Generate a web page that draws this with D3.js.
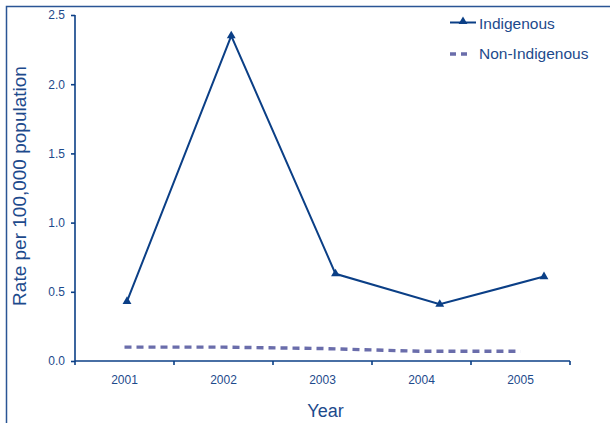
<!DOCTYPE html>
<html>
<head>
<meta charset="utf-8">
<script src="https://cdn.jsdelivr.net/npm/d3@7"></script>
<style>
  html, body { margin: 0; padding: 0; background: #fff; }
  svg { display: block; font-family: "Liberation Sans", Arial, sans-serif; }
</style>
</head>
<body>
<svg id="chart" width="610" height="423"></svg>
<script>
// Notification rates per 100,000 population by year
const years = ["2001", "2002", "2003", "2004", "2005"];
const indigenous = [0.43, 2.35, 0.63, 0.41, 0.61];
const nonIndigenous = [0.10, 0.10, 0.09, 0.07, 0.07];
const yTicks = [0, 0.5, 1.0, 1.5, 2.0, 2.5];

const seriesNames = ["Indigenous", "Non-Indigenous"];
const dark = "#0b3f86";
const purple = "#6a6dab";
const textCol = "#1d4a8c";

const svg = d3.select("#chart");

// outer frame (only top and left edges fall inside the view)
svg.append("rect")
  .attr("x", 6.5).attr("y", 6.5)
  .attr("width", 700).attr("height", 500)
  .attr("fill", "none").attr("stroke", "#2a5595").attr("stroke-width", 1.5);

const plot = { left: 75, right: 570, top: 15, bottom: 361 };

const xBand = d3.scaleBand().domain(years).range([plot.left, plot.right]);
const x = d3.scalePoint().domain(years).range([plot.left, plot.right]).padding(0.5);
// the Indigenous series sits on a slightly wider point spread
const xInd = d3.scalePoint().domain(years).range([plot.left + 52, plot.right - 26]);
const y = d3.scaleLinear().domain([0, 2.5]).range([plot.bottom, plot.top]);

// y axis
const yAxis = svg.append("g")
  .attr("transform", `translate(${plot.left},0)`)
  .call(d3.axisLeft(y).tickValues(yTicks).tickFormat(d3.format(".1f")).tickSize(4).tickPadding(6));
yAxis.select(".domain").attr("d", `M0,${plot.top}V${plot.bottom}`);

// x axis
const xAxis = svg.append("g")
  .attr("transform", `translate(0,${plot.bottom})`)
  .call(d3.axisBottom(xBand).tickSize(0).tickPadding(14));
xAxis.select(".domain").attr("d", `M${plot.left},0H${plot.right}`);
// tick marks on band boundaries
const bounds = years.map(d => xBand(d)).concat([xBand(years[years.length - 1]) + xBand.bandwidth()]);
xAxis.selectAll("line.bound").data(bounds).enter().append("line")
  .attr("class", "bound")
  .attr("x1", d => d).attr("x2", d => d)
  .attr("y1", 0).attr("y2", 4);

[yAxis, xAxis].forEach(g => {
  g.selectAll(".domain, line").attr("stroke", dark).attr("stroke-width", 1.6);
  g.selectAll("text").attr("fill", textCol).attr("font-size", 12)
    .attr("font-family", "'Liberation Sans', Arial, sans-serif");
});

// axis titles
svg.append("text")
  .attr("x", (plot.left + plot.right) / 2 + 3).attr("y", 417)
  .attr("text-anchor", "middle").attr("fill", textCol).attr("font-size", 18)
  .text("Year");
svg.append("text")
  .attr("transform", `translate(26,${(plot.top + plot.bottom) / 2 - 2}) rotate(-90)`)
  .attr("text-anchor", "middle").attr("fill", textCol).attr("font-size", 19)
  .text("Rate per 100,000 population");

// Non-Indigenous dashed line
svg.append("path")
  .datum(nonIndigenous)
  .attr("fill", "none").attr("stroke", purple).attr("stroke-width", 3.4)
  .attr("stroke-dasharray", "7,5")
  .attr("d", d3.line().x((d, i) => x(years[i])).y(d => y(d)));

// Indigenous line with triangle markers
svg.append("path")
  .datum(indigenous)
  .attr("fill", "none").attr("stroke", dark).attr("stroke-width", 2)
  .attr("d", d3.line().x((d, i) => xInd(years[i])).y(d => y(d)));

const tri = d3.symbol().type(d3.symbolTriangle).size(34);
svg.selectAll("path.marker").data(indigenous).enter().append("path")
  .attr("class", "marker")
  .attr("d", tri)
  .attr("fill", dark)
  .attr("transform", (d, i) => `translate(${xInd(years[i])},${y(d)})`);

// legend
const legend = svg.append("g");
legend.append("line")
  .attr("x1", 450).attr("x2", 476).attr("y1", 22.5).attr("y2", 22.5)
  .attr("stroke", dark).attr("stroke-width", 2);
legend.append("path").attr("d", tri).attr("fill", dark)
  .attr("transform", "translate(463,21.5)");
legend.append("line")
  .attr("x1", 450).attr("x2", 468).attr("y1", 54).attr("y2", 54)
  .attr("stroke", purple).attr("stroke-width", 3.4).attr("stroke-dasharray", "6,5");
legend.selectAll("text.leg").data(seriesNames).enter().append("text")
  .attr("class", "leg")
  .attr("x", 479).attr("y", (d, i) => 29 + i * 30)
  .attr("fill", textCol).attr("font-size", 15.5)
  .text(d => d);
</script>
</body>
</html>
